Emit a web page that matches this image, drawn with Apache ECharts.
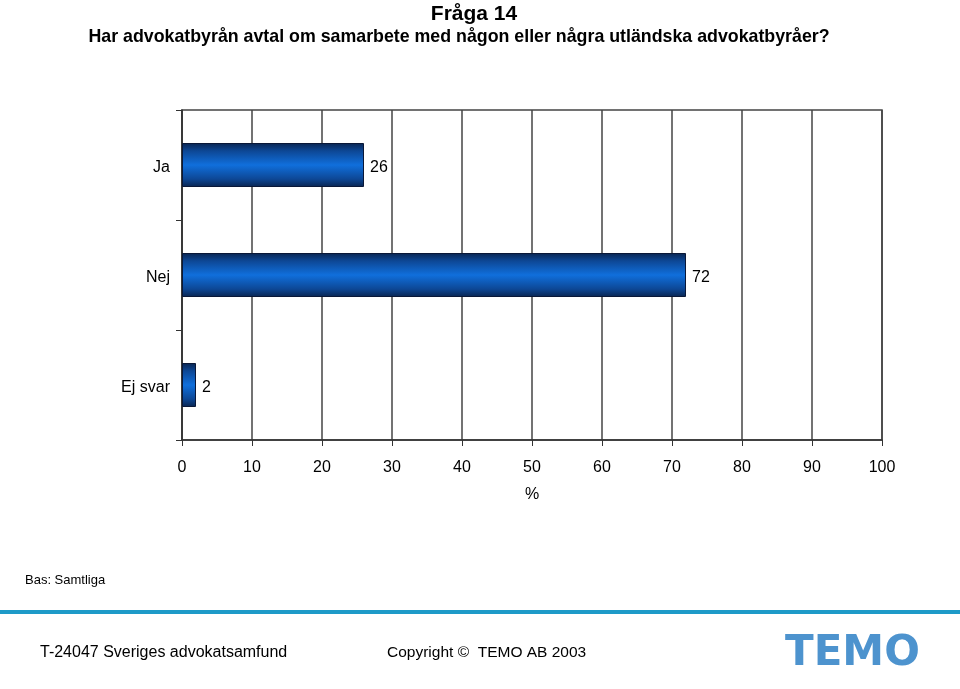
<!DOCTYPE html>
<html><head><meta charset="utf-8">
<script src="https://cdn.jsdelivr.net/npm/echarts@6/dist/echarts.min.js"></script>
<style>html,body{margin:0;padding:0;background:#fff}#c{width:960px;height:689px}</style>
</head><body><div id="c"></div>
<script>
const categories = ['Ja', 'Nej', 'Ej svar'];
const values = [26, 72, 2];
const xTicks = [0, 10, 20, 30, 40, 50, 60, 70, 80, 90, 100];

const chart = echarts.init(document.getElementById('c'));
const FONT = '"Liberation Sans", Arial, sans-serif';

const barGrad = new echarts.graphic.LinearGradient(0, 0, 0, 1, [
  {offset: 0, color: '#0a2550'},
  {offset: 0.18, color: '#0d4795'},
  {offset: 0.5, color: '#106fdc'},
  {offset: 0.82, color: '#0d4795'},
  {offset: 1, color: '#0a2550'}
]);

chart.setOption({
  animation: false,
  title: [
    {text: 'Fråga 14', left: 469, top: -1, textAlign: 'center',
     textStyle: {fontFamily: FONT, fontSize: 21, fontWeight: 'bold', color: '#000'}},
    {text: 'Har advokatbyrån avtal om samarbete med någon eller några utländska advokatbyråer?', left: 454, top: 23, textAlign: 'center',
     textStyle: {fontFamily: FONT, fontSize: 17.8, fontWeight: 'bold', color: '#000'}}
  ],
  grid: {left: 182, right: 78, top: 110, bottom: 249, show: true, borderColor: '#444', borderWidth: 1.5},
  xAxis: {
    type: 'value', min: 0, max: 100, interval: 10,
    name: '%', nameLocation: 'middle', nameGap: 47,
    nameTextStyle: {fontFamily: FONT, fontSize: 16, color: '#000'},
    axisLine: {show: true, lineStyle: {color: '#333', width: 1.5}},
    axisTick: {show: true, length: 6, lineStyle: {color: '#333'}},
    axisLabel: {fontFamily: FONT, fontSize: 16, color: '#000', margin: 20,
      formatter: v => xTicks.includes(v) ? String(v) : ''},
    splitLine: {show: true, lineStyle: {color: '#444', width: 1.5}}
  },
  yAxis: {
    type: 'category', data: categories, inverse: true,
    axisLine: {show: true, lineStyle: {color: '#333', width: 1.5}},
    axisTick: {show: true, length: 6, lineStyle: {color: '#333'}},
    axisLabel: {fontFamily: FONT, fontSize: 16, color: '#000', margin: 12,
      formatter: v => '{a|' + v + '}',
      rich: {a: {fontFamily: FONT, fontSize: 16, color: '#000', padding: [6, 0, 0, 0]}}},
    splitLine: {show: false}
  },
  series: [{
    type: 'bar', data: values, barWidth: '40%',
    itemStyle: {color: barGrad, borderColor: '#0a1838', borderWidth: 1},
    label: {show: true, position: 'right', distance: 6, offset: [0, 3], fontFamily: FONT, fontSize: 16, color: '#000'}
  }],
  graphic: [
    {type: 'text', left: 25, top: 574, style: {text: 'Bas: Samtliga', fontFamily: FONT, fontSize: 13, fill: '#000'}},
    {type: 'rect', shape: {x: 0, y: 610, width: 960, height: 4}, style: {fill: '#1e9ac8'}},
    {type: 'text', left: 40, top: 645, style: {text: 'T-24047 Sveriges advokatsamfund', fontFamily: FONT, fontSize: 16, fill: '#000'}},
    {type: 'text', left: 387, top: 645, style: {text: 'Copyright \u00A9  TEMO AB 2003', fontFamily: FONT, fontSize: 15.5, fill: '#000'}},
    {type: 'text', left: 785, top: 633, style: {text: 'TEMO', fontFamily: '"DejaVu Sans", sans-serif', fontWeight: 'bold', fontSize: 42,
      fill: '#3a87c9', opacity: 0.9}}
  ]
});
</script></body></html>
